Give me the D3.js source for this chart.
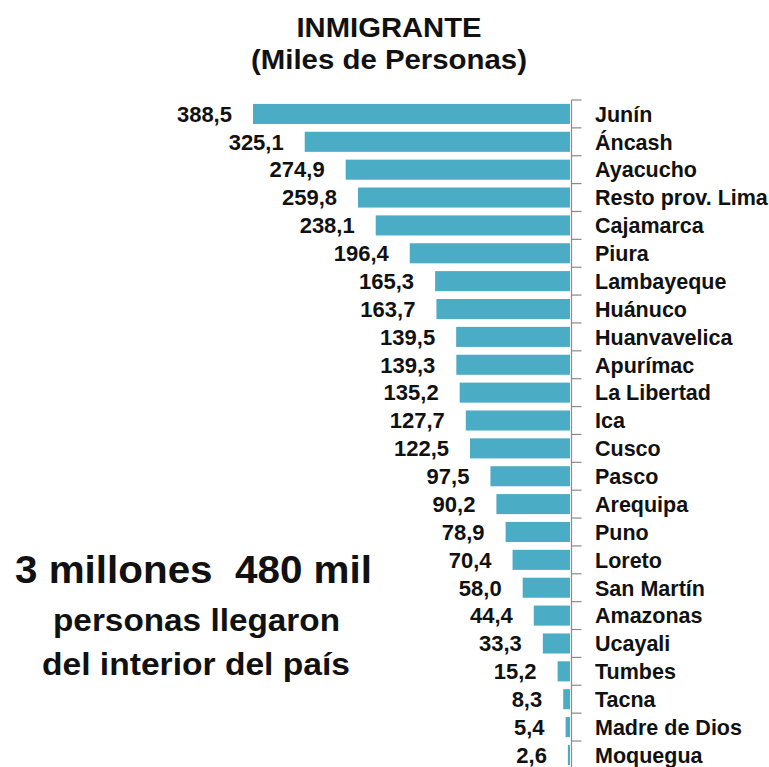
<!DOCTYPE html>
<html><head><meta charset="utf-8">
<script src="https://cdn.jsdelivr.net/npm/d3@7/dist/d3.min.js"></script>
<style>body{margin:0;background:#fff}svg{display:block}text{font-family:"Liberation Sans",Arial,sans-serif;font-weight:bold;fill:#111}</style>
</head><body>
<svg id="c" width="769" height="767"></svg>
<script>
const categories = ["Junín","Áncash","Ayacucho","Resto prov. Lima","Cajamarca","Piura","Lambayeque","Huánuco","Huanvavelica","Apurímac","La Libertad","Ica","Cusco","Pasco","Arequipa","Puno","Loreto","San Martín","Amazonas","Ucayali","Tumbes","Tacna","Madre de Dios","Moquegua"];
const values = [388.5,325.1,274.9,259.8,238.1,196.4,165.3,163.7,139.5,139.3,135.2,127.7,122.5,97.5,90.2,78.9,70.4,58.0,44.4,33.3,15.2,8.3,5.4,2.6];
const titleLines = ["INMIGRANTE","(Miles de Personas)"];
const noteLines = ["3 millones  480 mil","personas llegaron","del interior del país"];

const svg = d3.select("#c");
const fmt = v => d3.format(".1f")(v).replace(".", ",");

const x = d3.scaleLinear().domain([0, 400]).range([570, 243.6]);
const y = d3.scaleBand().domain(categories).range([100, 100 + 27.87*categories.length]).paddingInner(0.28).paddingOuter(0.14);

// title
svg.append("text").attr("x", 389).attr("y", 37).attr("text-anchor","middle").style("font-size","28px").attr("textLength",185).attr("lengthAdjust","spacingAndGlyphs").text(titleLines[0]);
svg.append("text").attr("x", 389).attr("y", 69).attr("text-anchor","middle").style("font-size","28px").attr("textLength",276).attr("lengthAdjust","spacingAndGlyphs").text(titleLines[1]);

// bars
svg.selectAll("rect.bar").data(values).join("rect")
  .attr("x", d => x(d)).attr("width", d => x(0) - x(d))
  .attr("y", (d,i) => y(categories[i])).attr("height", y.bandwidth())
  .attr("fill", "#4BACC6");

// axis (ticks at band boundaries)
const axisX = 571.5;
svg.append("line").attr("x1",axisX).attr("x2",axisX).attr("y1",100).attr("y2",767).attr("stroke","#8a8a8a").attr("stroke-width",1.2);
const step = y.step();
const bounds = d3.range(categories.length).map(i => 100 + i*step);
svg.selectAll("line.tk").data(bounds).join("line")
  .attr("x1",axisX).attr("x2",axisX+10).attr("y1",d=>d).attr("y2",d=>d)
  .attr("stroke","#8a8a8a").attr("stroke-width",1.2);

// category labels
svg.selectAll("text.cat").data(categories).join("text")
  .attr("x", 595).attr("y", d => y(d) + y.bandwidth()/2 + 7.8)
  .style("font-size","21.5px").text(d => d);

// value labels
svg.selectAll("text.val").data(values).join("text")
  .attr("x", d => x(d) - 21).attr("y", (d,i) => y(categories[i]) + y.bandwidth()/2 + 7.8)
  .attr("text-anchor","end").style("font-size","22px").text(d => fmt(d));

// note
svg.append("text").attr("x", 15).attr("y", 583).style("font-size","39px").attr("textLength",357).attr("lengthAdjust","spacingAndGlyphs").style("white-space","pre").text(noteLines[0]);
svg.append("text").attr("x", 53).attr("y", 631).style("font-size","32px").attr("textLength",287).attr("lengthAdjust","spacingAndGlyphs").text(noteLines[1]);
svg.append("text").attr("x", 42).attr("y", 675).style("font-size","32px").attr("textLength",308).attr("lengthAdjust","spacingAndGlyphs").text(noteLines[2]);
</script>
</body></html>
